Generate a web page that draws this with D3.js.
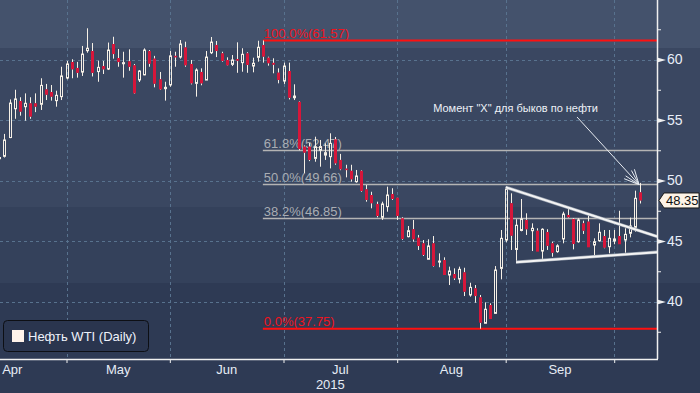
<!DOCTYPE html>
<html lang="ru">
<head>
<meta charset="utf-8">
<title>WTI Daily</title>
<script src="https://cdn.jsdelivr.net/npm/d3@7"></script>
<style>
  body { margin: 0; background: #2e3a54; }
  svg { display: block; font-family: "Liberation Sans", Arial, sans-serif; }
</style>
</head>
<body>
<svg width="700" height="393"></svg>
<script>
// Дневные свечи WTI (индекс = торговый день, 0 = первая свеча слева)
var open  = [51.8,52.0,53.55,55.93,56.57,56.1,56.38,56.38,56.3,57.53,57.31,56.6,56.93,58.47,59.79,59.3,58.96,60.73,60.7,59.0,
             59.46,59.21,61.28,60.12,59.65,59.85,59.52,58.31,58.73,60.7,60.07,58.36,57.59,57.9,60.3,60.2,61.0,59.63,58.03,58.97,
             58.3,60.56,61.2,60.51,59.96,59.6,60.04,59.74,60.51,59.46,60.18,61.2,60.15,59.72,58.91,58.22,59.05,56.84,56.5,52.8,
             52.8,51.83,52.5,52.1,51.97,53.4,51.7,50.98,50.8,49.9,50.8,49.27,48.8,48.06,46.96,47.84,48.88,48.58,46.88,45.36,
             45.97,45.27,44.81,43.49,44.81,43.3,43.43,42.19,42.27,41.86,42.41,40.54,41.09,40.35,38.2,39.71,39.02,42.74,45.08,48.12,
             44.3,45.87,46.74,45.85,45.85,44.17,45.74,44.81,44.12,45.17,47.15,46.82,44.94,46.46,46.6,44.67,45.02,45.41,44.53,45.0,
             45.41,45.08,45.64,46.13,49.02];
var high  = [52.0,53.85,56.7,57.5,56.88,57.2,56.88,57.2,58.45,57.98,57.89,57.42,59.4,59.88,60.02,59.8,61.12,62.58,61.36,59.9,
             59.88,61.4,61.88,60.87,60.64,60.84,59.63,59.13,60.92,60.78,60.3,58.97,58.16,60.7,60.64,61.61,61.47,59.96,59.27,59.27,
             60.7,61.86,61.53,60.64,60.18,60.37,61.42,60.93,60.6,60.15,61.55,61.57,60.23,60.1,59.27,59.74,59.74,57.95,56.55,52.9,
             53.1,53.62,53.35,53.07,53.9,53.6,52.2,51.3,51.3,50.87,50.85,49.63,49.07,48.25,48.25,49.49,49.36,48.6,46.96,46.24,
             46.74,45.5,45.08,45.14,45.41,43.98,43.65,42.88,42.74,42.88,42.79,41.55,41.36,40.54,39.93,39.85,42.93,45.91,49.44,48.94,
             46.8,48.47,47.29,46.46,46.05,46.05,45.97,44.94,44.73,47.42,47.7,46.9,46.88,46.68,47.15,45.22,46.46,45.91,45.91,45.91,
             47.5,46.05,46.93,49.16,49.8];
var low   = [51.7,51.9,53.5,55.1,55.36,54.94,55.1,55.65,55.83,56.65,56.6,56.1,56.65,58.36,58.45,58.5,58.64,60.56,58.6,58.16,
             58.8,59.13,60.07,59.4,58.5,59.07,57.15,58.14,58.7,59.4,57.7,57.48,56.6,57.75,59.4,60.07,59.4,57.94,56.93,57.87,
             58.3,60.45,60.2,59.82,59.49,59.46,58.9,58.99,58.9,58.94,59.82,59.74,59.49,58.86,58.03,57.98,56.7,56.65,52.5,50.6,
             51.6,51.55,51.14,51.7,51.0,51.3,50.85,50.26,49.9,49.82,49.07,48.25,47.7,46.96,46.74,47.42,48.39,46.74,45.1,45.3,
             44.94,44.26,43.76,43.49,42.88,42.83,42.19,41.36,41.78,41.5,40.45,40.4,39.9,37.75,38.2,38.55,39.0,41.83,44.9,44.26,
             43.25,45.8,45.5,44.17,44.12,43.5,44.26,43.7,44.03,44.81,46.9,44.31,44.86,45.58,44.48,43.84,44.94,44.4,43.98,44.73,
             44.73,44.03,45.3,45.77,48.1];
var close = [51.9,53.35,56.4,56.74,55.69,56.38,55.28,56.1,57.86,57.09,56.93,57.04,58.64,59.63,59.19,58.9,60.45,60.93,58.9,59.35,
             59.19,60.78,60.45,59.79,59.74,59.4,57.2,59.05,60.78,59.65,58.0,57.53,57.7,60.3,60.2,61.28,59.52,58.03,59.13,58.03,
             60.2,61.44,60.7,59.88,59.52,59.96,59.9,60.43,59.55,59.69,61.01,60.24,59.69,59.57,58.31,59.46,56.84,56.98,52.6,52.3,
             51.7,52.79,52.8,52.3,53.07,51.42,50.93,50.89,50.1,50.37,49.13,48.39,48.12,47.07,48.06,48.8,48.47,47.07,45.17,45.85,
             45.14,44.59,43.84,44.59,42.93,43.34,42.19,42.52,41.92,42.66,40.81,41.17,40.45,38.25,39.36,38.55,42.6,45.22,49.27,45.44,
             46.3,46.82,45.97,46.05,44.12,45.97,44.6,44.03,44.6,47.23,46.96,44.75,46.74,45.85,44.48,44.94,45.72,44.45,45.22,45.17,
             44.73,45.55,46.24,48.53,48.35];

// Последний торговый день месяца (Mar..Sep) -> отметки оси X
var monthEnds   = [-8, 13, 33, 55, 77, 98, 119];
var monthLabels = ["Apr", "May", "Jun", "Jul", "Aug", "Sep"];
var yearLabel   = "2015";

var priceTicks = [40, 45, 50, 55, 60];
var minorTicks = [37.5, 42.5, 47.5, 52.5, 57.5, 62.5, 65];

// Уровни Фибоначчи
var fibPct   = ["100.0%", "61.8%", "50.0%", "38.2%", "0.0%"];
var fibVal   = [61.57, 52.47, 49.66, 46.85, 37.75];
var fibStart = 51;

// Треугольник и стрелка (индекс, цена)
var trendUpper = [[98, 49.44], [127.3, 45.37]];
var trendLower = [[100, 43.25], [127.3, 44.08]];
var arrowPts   = [[111.8, 55.25], [123.8, 49.66]];
var noteText   = "Момент \"X\" для быков по нефти";
var lastPrice  = 48.35;
var legendText = "Нефть WTI (Daily)";

var svg = d3.select("svg"),
    W = 700, H = 393,
    axisX = 657, axisY = 359;

var x = d3.scaleLinear().domain([13, 119]).range([66.5, 614.2]);
var y = d3.scaleLinear().domain([40, 60]).range([301.5, 59.5]);

// Фон полосами
var bands = [[0, 48, "#44526c"], [48, 207, "#3a4761"], [207, 283, "#34415b"], [283, H, "#2e3a54"]];
svg.selectAll("rect.band").data(bands).enter().append("rect")
    .attr("class", "band")
    .attr("x", 0).attr("y", function(d) { return d[0]; })
    .attr("width", W).attr("height", function(d) { return d[1] - d[0]; })
    .attr("fill", function(d) { return d[2]; });

// Сетка
var grid = svg.append("g").attr("stroke", "#58728e").attr("stroke-dasharray", "3,3").attr("stroke-width", 1);
grid.selectAll("line.h").data(priceTicks).enter().append("line")
    .attr("x1", 0).attr("x2", axisX)
    .attr("y1", function(d) { return Math.round(y(d)) + 0.5; })
    .attr("y2", function(d) { return Math.round(y(d)) + 0.5; });
grid.selectAll("line.v").data(monthEnds.slice(1)).enter().append("line")
    .attr("y1", 0).attr("y2", axisY)
    .attr("x1", function(d) { return Math.round(x(d)) + 0.5; })
    .attr("x2", function(d) { return Math.round(x(d)) + 0.5; });

// Фибо линии
var fib = svg.append("g");
fibVal.forEach(function(v, k) {
    var red = (k === 0 || k === fibVal.length - 1);
    fib.append("line")
        .attr("x1", x(fibStart)).attr("x2", axisX)
        .attr("y1", y(v)).attr("y2", y(v))
        .attr("stroke", red ? "#ff1010" : "#b4b4b4")
        .attr("stroke-width", red ? 2 : 1.5);
    fib.append("text")
        .attr("x", x(fibStart) + 1).attr("y", y(v) - 3)
        .attr("font-size", 13)
        .attr("fill", red ? "#ee1420" : "#a9adb3")
        .text(fibPct[k] + "(" + v.toFixed(2) + ")");
});

// Свечи
var candles = svg.append("g");
open.forEach(function(o, i) {
    var c = close[i], up = c >= o,
        px = Math.round(x(i)),
        top = y(Math.max(o, c)), bot = y(Math.min(o, c));
    var g = candles.append("g");
    g.append("line").attr("x1", px + 0.5).attr("x2", px + 0.5)
        .attr("y1", y(high[i])).attr("y2", top)
        .attr("stroke", "#f6f0e6").attr("stroke-width", 1);
    g.append("line").attr("x1", px + 0.5).attr("x2", px + 0.5)
        .attr("y1", bot).attr("y2", y(low[i]))
        .attr("stroke", "#f6f0e6").attr("stroke-width", 1);
    if (up) {
        g.append("rect").attr("x", px - 0.5).attr("y", top)
            .attr("width", 2).attr("height", Math.max(1, bot - top))
            .attr("fill", "none").attr("stroke", "#f6f0e6").attr("stroke-width", 1);
    } else {
        g.append("rect").attr("x", px - 1).attr("y", top)
            .attr("width", 3).attr("height", Math.max(1.5, bot - top))
            .attr("fill", "#d6163a");
    }
});

// Треугольник
var line = d3.line().x(function(d) { return x(d[0]); }).y(function(d) { return y(d[1]); });
[trendUpper, trendLower].forEach(function(t) {
    svg.append("path").attr("d", line(t))
        .attr("fill", "none").attr("stroke", "#9aa3b0").attr("stroke-width", 3.2);
    svg.append("path").attr("d", line(t))
        .attr("fill", "none").attr("stroke", "#f4f4f4").attr("stroke-width", 2);
});

// Аннотация со стрелкой
var a0 = [x(arrowPts[0][0]), y(arrowPts[0][1])], a1 = [x(arrowPts[1][0]), y(arrowPts[1][1])];
var ang = Math.atan2(a1[1] - a0[1], a1[0] - a0[0]);
var note = svg.append("g").attr("stroke", "#e8ecf2").attr("stroke-width", 1).attr("fill", "none");
note.append("line").attr("x1", a0[0]).attr("y1", a0[1]).attr("x2", a1[0]).attr("y2", a1[1]);
[-0.45, -0.25, 0.25, 0.45].forEach(function(da) {
    note.append("line")
        .attr("x1", a1[0]).attr("y1", a1[1])
        .attr("x2", a1[0] - 16 * Math.cos(ang + da)).attr("y2", a1[1] - 16 * Math.sin(ang + da));
});
svg.append("text")
    .attr("x", a0[0] + 21).attr("y", a0[1] - 5)
    .attr("text-anchor", "end")
    .attr("font-size", 11)
    .attr("fill", "#eef2f8")
    .text(noteText);

// Правая ось
var axisG = svg.append("g").attr("transform", "translate(" + axisX + ",0)");
axisG.append("g")
    .call(d3.axisRight(y).tickValues(minorTicks).tickSize(4).tickFormat(""))
    .call(function(g) { g.select(".domain").remove(); g.selectAll("line").attr("stroke", "#f0f0f0"); });
var major = axisG.append("g")
    .call(d3.axisRight(y).tickValues(priceTicks).tickSize(0).tickPadding(10).tickFormat(d3.format("d")))
    .call(function(g) { g.select(".domain").remove(); });
major.selectAll("text").attr("font-size", 14).attr("fill", "#e8eef8").attr("font-family", "Liberation Sans, Arial, sans-serif");
major.selectAll(".tick").append("path").attr("d", "M0,-2.5L9,0L0,2.5Z").attr("fill", "#f0f0f0");
axisG.append("line").attr("x1", 0.5).attr("x2", 0.5).attr("y1", 0).attr("y2", axisY)
    .attr("stroke", "#f0f0f0").attr("stroke-width", 1.5);

// Нижняя ось
var xAxis = svg.append("g").attr("transform", "translate(0," + axisY + ")")
    .call(d3.axisBottom(x).tickValues(monthEnds).tickSize(4).tickFormat(""))
    .call(function(g) { g.select(".domain").remove(); g.selectAll("line").attr("stroke", "#f0f0f0"); });
svg.append("line").attr("x1", 0).attr("x2", axisX + 1).attr("y1", axisY + 0.5).attr("y2", axisY + 0.5)
    .attr("stroke", "#f0f0f0").attr("stroke-width", 1.5);
svg.selectAll("text.month").data(monthLabels).enter().append("text")
    .attr("class", "month")
    .attr("x", function(d, k) { return (x(monthEnds[k]) + x(monthEnds[k + 1])) / 2; })
    .attr("y", 374)
    .attr("text-anchor", "middle")
    .attr("font-size", 13)
    .attr("fill", "#e6ecf5")
    .text(function(d) { return d; });
svg.append("text")
    .attr("x", x((monthEnds[3] + monthEnds[4]) / 2) - 10).attr("y", 389)
    .attr("text-anchor", "middle").attr("font-size", 13).attr("fill", "#e6ecf5")
    .text(yearLabel);

// Метка последней цены
var ly = y(lastPrice);
svg.append("path")
    .attr("d", "M659," + ly + "L664," + (ly - 7.5) + "L699," + (ly - 7.5) + "L699," + (ly + 7.5) + "L664," + (ly + 7.5) + "Z")
    .attr("fill", "#fdf3e6").attr("stroke", "#1a1a1a").attr("stroke-width", 1);
svg.append("text").attr("x", 666).attr("y", ly + 5)
    .attr("font-size", 13).attr("fill", "#111")
    .text(lastPrice.toFixed(2));

// Легенда
var legend = svg.append("g");
legend.append("rect").attr("x", 3.5).attr("y", 320.5).attr("width", 145).attr("height", 31).attr("rx", 4)
    .attr("fill", "#2a354e").attr("stroke", "#0d0f14").attr("stroke-width", 1);
legend.append("rect").attr("x", 12).attr("y", 330).attr("width", 12).attr("height", 12).attr("fill", "#fff3ea");
legend.append("text").attr("x", 28).attr("y", 341).attr("font-size", 13).attr("fill", "#eef2fa").text(legendText);
</script>
</body>
</html>
